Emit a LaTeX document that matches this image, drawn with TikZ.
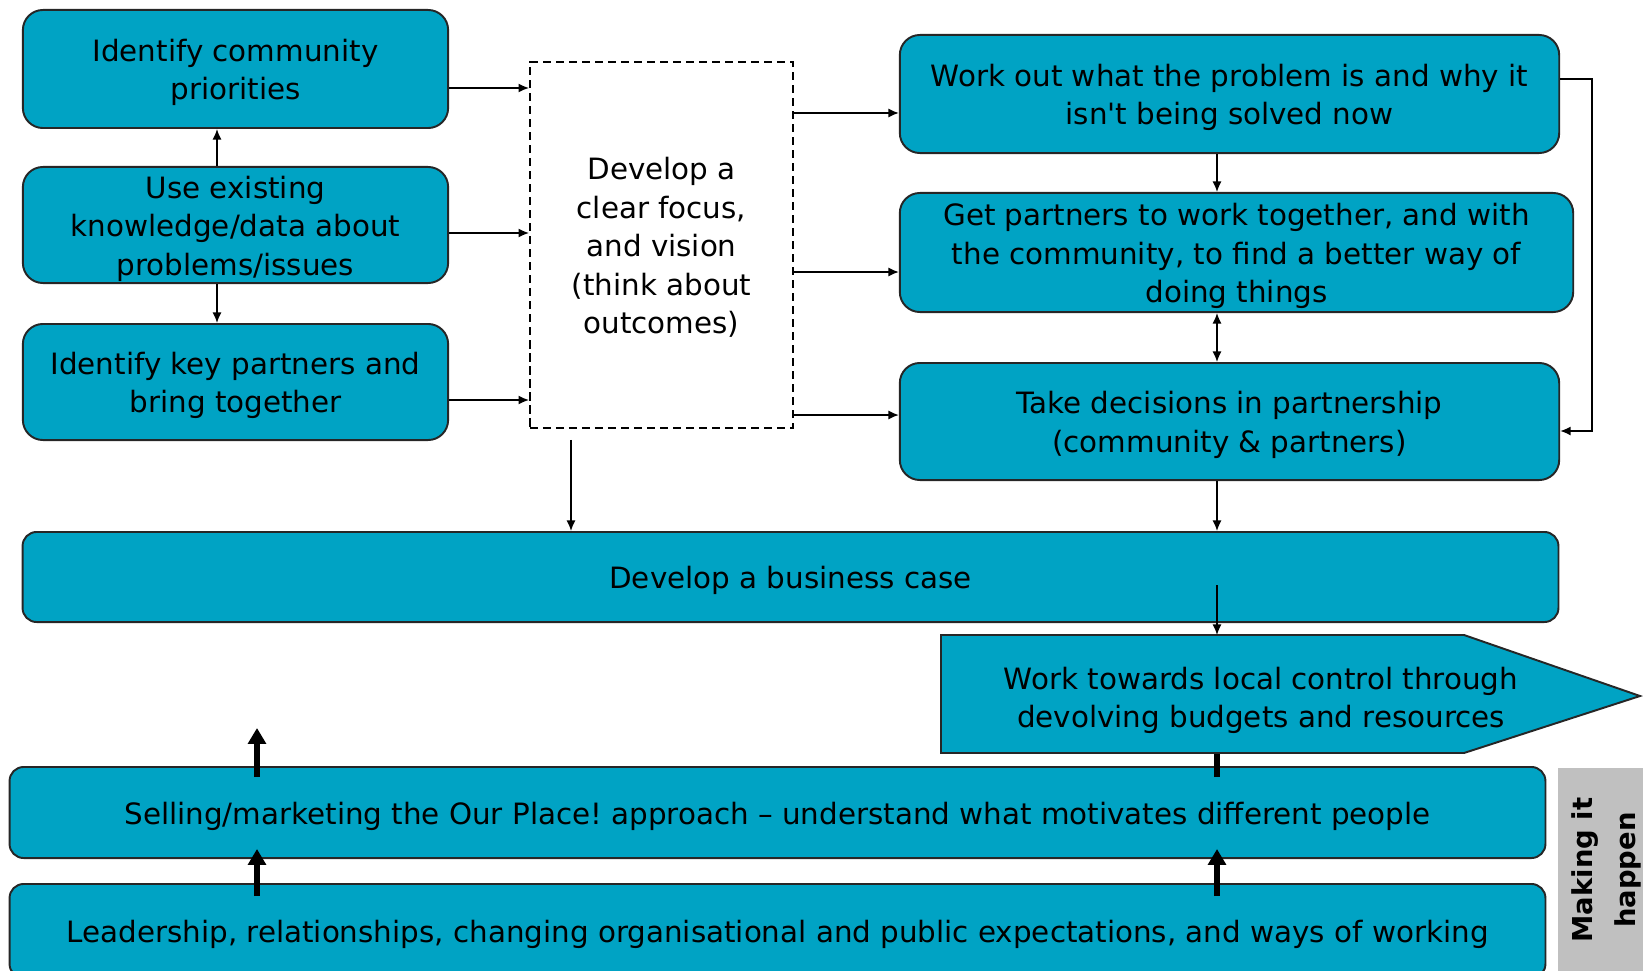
\documentclass[tikz,border=0pt]{standalone}
\usepackage{fontspec}
\setmainfont{DejaVu Sans}
\usetikzlibrary{arrows.meta,calc}
\definecolor{tealfill}{RGB}{0,163,196}
\definecolor{greyband}{RGB}{192,192,192}
\frenchspacing
\newcommand{\boxtext}[1]{\raisebox{-1.1pt}[\height][\depth]{\begin{tabular}{@{}c@{}}#1\end{tabular}}}
\begin{document}
\begin{tikzpicture}[x=0.01cm,y=-0.01cm,
  every node/.style={font=\fontsize{8.35}{10.95}\selectfont, inner sep=0pt, align=center},
  box/.style={draw=black!85, fill=tealfill, line width=0.55pt, rounded corners=5.7pt},
  flat/.style={draw=black!85, fill=tealfill, line width=0.55pt, rounded corners=4pt},
  dbox/.style={draw=black, dash pattern=on 2.3pt off 1.4pt, line width=0.5pt, fill=white},
  arr/.style={-{Latex[length=3pt,width=2.6pt]}, line width=0.45pt},
  darr/.style={{Latex[length=3pt,width=2.6pt]}-{Latex[length=3pt,width=2.6pt]}, line width=0.45pt},
  tarr/.style={-{Triangle[length=4.5pt,width=5pt]}, line width=1.5pt},
  tline/.style={line width=1.5pt}
]
\useasboundingbox (0,0) rectangle (1643,970);
\clip (0,0) rectangle (1643,970);

% left column
\node[box, minimum width=4.25cm, minimum height=1.18cm] (b1) at (235.5,69) {\boxtext{Identify community\\priorities}};
\node[box, minimum width=4.25cm, minimum height=1.16cm] (b2) at (235.5,225) {\boxtext{Use existing\\knowledge/data about\\problems/issues}};
\node[box, minimum width=4.25cm, minimum height=1.16cm] (b3) at (235.5,382) {\boxtext{Identify key partners and\\bring together}};

% dashed focus box
\node[dbox, minimum width=2.63cm, minimum height=3.66cm] (focus) at (661.5,245) {\boxtext{Develop a\\clear focus,\\and vision\\(think about\\outcomes)}};

% right column
\node[box, minimum width=6.59cm, minimum height=1.18cm] (work) at (1229.5,94) {\boxtext{Work out what the problem is and why it\\isn\textquotesingle t being solved now}};
\node[box, minimum width=6.73cm, minimum height=1.19cm] (get) at (1236.5,252.5) {\boxtext{Get partners to work together, and with\\the community, to find a better way of\\doing things}};
\node[box, minimum width=6.59cm, minimum height=1.17cm] (take) at (1229.5,421.5) {\boxtext{Take decisions in partnership\\(community \& partners)}};

% business case
\node[flat, minimum width=15.35cm, minimum height=0.90cm] (biz) at (790.5,577) {\boxtext{Develop a business case}};

% bottom bands
\node[flat, minimum width=15.35cm, minimum height=0.91cm] (sell) at (777.5,812.5) {\boxtext{Selling/marketing the Our Place! approach -- understand what motivates different people}};
\node[flat, minimum width=15.35cm, minimum height=0.94cm] (lead) at (777.5,931) {\boxtext{Leadership, relationships, changing organisational and public expectations, and ways of working}};

% grey side label
\node[fill=greyband, minimum width=0.86cm, minimum height=2.1cm, anchor=north west] (band) at (1557,767) {};
\node[rotate=90, font=\bfseries\fontsize{7.8}{12.2}\selectfont] (mk) at (1606,870) {Making it\\happen};

% thick line up into the pentagon (pentagon drawn over its end)
\draw[tline] (sell.north -| 1217,0) ++(0,11) coordinate (sup) -- (1217,753) coordinate (pbot);

% pentagon arrow
\draw[draw=black!85, fill=tealfill, line width=0.55pt] (941,635) -- (1464,635) -- (1640,696) -- (1464,753) -- (941,753) -- cycle;
\node (local) at (1261,697) {\boxtext{Work towards local control through\\devolving budgets and resources}};
\coordinate (ptop) at (1217,635);

% thin arrows
\draw[arr] (b1.east |- 0,88) -- (focus.west |- 0,88);
\draw[arr] (b2.east |- 0,233) -- (focus.west |- 0,233);
\draw[arr] (b3.east |- 0,400) -- (focus.west |- 0,400);
\draw[arr] (b2.north -| 217,0) -- (b1.south -| 217,0);
\draw[arr] (b2.south -| 217,0) -- (b3.north -| 217,0);
\draw[arr] (focus.east |- 0,113) -- (work.west |- 0,113);
\draw[arr] (focus.east |- 0,272) -- (get.west |- 0,272);
\draw[arr] (focus.east |- 0,415) -- (take.west |- 0,415);
\draw[arr] (work.south -| 1217,0) -- (get.north -| 1217,0);
\draw[darr] (get.south -| 1217,0) -- (take.north -| 1217,0);
\draw[arr] (take.south -| 1217,0) -- (biz.north -| 1217,0);
\draw[arr] ($(focus.south -| 571,0)+(0,11)$) -- (biz.north -| 571,0);
\draw[arr] (1217,585) coordinate (bizin) -- (ptop);
\draw[arr] (work.east |- 0,79) -| (1592,431) -- (take.east |- 0,431);

% thick arrows
\draw[tarr] (sell.north -| 257,0) ++(0,11) -- (257,728) coordinate (upfree);
\draw[tarr] (lead.north -| 257,0) ++(0,13) -- (sell.south -| 257,0) ++(0,-10);
\draw[tarr] (lead.north -| 1217,0) ++(0,13) -- (sell.south -| 1217,0) ++(0,-10);
\end{tikzpicture}
\end{document}
